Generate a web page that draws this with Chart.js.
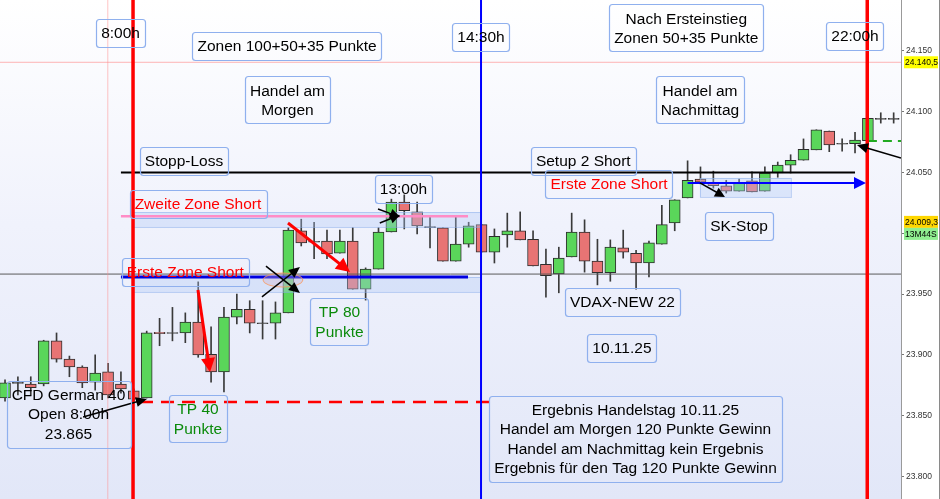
<!DOCTYPE html>
<html>
<head>
<meta charset="utf-8">
<script src="https://cdn.jsdelivr.net/npm/chart.js@4.4.1/dist/chart.umd.min.js"></script>
<style>
  html, body { margin: 0; padding: 0; background: #fff; }
  #wrap { width: 940px; height: 499px; }
</style>
</head>
<body>
<div id="wrap"><canvas id="chartDax" width="940" height="499"></canvas></div>
<script>
// DAX CFD, 15-Minuten-Kerzen vom 10.11.25
const opens  = [23864.5, 23877, 23876, 23876, 23911.5, 23896.5, 23890, 23877.5, 23886, 23876,
                23870.5, 23864.5, 23918.5, 23918, 23918, 23927, 23900.5, 23886, 23931, 23937.5,
                23926, 23926, 23934.5, 24002, 23993, 23993.5, 23983.5, 23993.5, 23954, 23970.5,
                24001, 24025.5, 24017.5, 24005, 24004.5, 23977, 23991, 24007, 23984.5, 23998.5,
                24002, 23995, 23974.5, 23966.5, 23980.5, 24001, 23977, 23967.5, 23988, 23983.5,
                23975.5, 23991, 24008.5, 24029, 24044.5, 24041.5, 24039, 24034.5, 24043, 24034.5,
                24049.5, 24056, 24060, 24068.5, 24084, 24073.5, 24073.5, 24076, 24094, 24094];
const highs  = [23879.5, 23882, 23882, 23912, 23918, 23899, 23891, 23900, 23893, 23886,
                23872, 23919.5, 23930, 23939, 23934.5, 23960, 23923, 23939, 23950, 23944.5,
                23944.5, 23943.5, 24004.5, 24011.5, 24009, 24002.5, 24002.5, 24004.5, 23971.5, 24004.5,
                24028, 24031.5, 24025.5, 24013.5, 24004.5, 24013.5, 24009, 24007, 24003.5, 24016.5,
                24017.5, 24002, 23987, 23988.5, 24016.5, 24011, 23995, 23994.5, 24002.5, 23986,
                23993.5, 24023, 24027.5, 24059.5, 24054.5, 24051, 24043.5, 24044.5, 24050.5, 24054.5,
                24058.5, 24064.5, 24077.5, 24085, 24084, 24077.5, 24083, 24094.5, 24099, 24099];
const lows   = [23862, 23867, 23867, 23874.5, 23894, 23882, 23873, 23871, 23864.5, 23868.5,
                23862, 23864.5, 23907.5, 23911.5, 23910, 23898, 23877.5, 23869.5, 23925.5, 23918,
                23913, 23913, 23934.5, 23989.5, 23979, 23979, 23983.5, 23954, 23945, 23970.5,
                24001, 24003.5, 23999.5, 23988, 23977, 23977, 23988.5, 23984.5, 23975.5, 23988.5,
                23994.5, 23973, 23947.5, 23951, 23980.5, 23968, 23957.5, 23960.5, 23979.5, 23954,
                23964, 23991, 24002, 24029, 24040.5, 24037, 24033, 24034.5, 24034, 24034.5,
                24046, 24049.5, 24060, 24068.5, 24067, 24067.5, 24066, 24076, 24090.5, 24090.5];
const closes = [23877, 23877, 23873, 23911.5, 23896.5, 23890, 23877, 23885, 23867, 23872,
                23863.5, 23918, 23917.5, 23918, 23927, 23900, 23886, 23931, 23937.5, 23926,
                23926, 23934.5, 24002.5, 23992, 23993, 23983, 23993.5, 23954, 23970.5, 24001,
                24025.5, 24018.5, 24006, 24005, 23977, 23991, 24006, 23984.5, 23997.5, 24002,
                23994.5, 23973, 23965, 23979.5, 24001, 23977, 23967.5, 23988.5, 23984.5, 23975.5,
                23992, 24007, 24027.5, 24043.5, 24042, 24039, 24034.5, 24041.5, 24034, 24049.5,
                24056, 24060, 24069, 24085, 24072.5, 24073.5, 24076.5, 24094.5, 24094, 24094];

const priceTicks = [23800, 23850, 23900, 23950, 24000, 24050, 24100, 24150];
const markPrice = 24140.5;
const lastPrice = 24009.3;
const barTimer = '13M44S';

const UP = '#5ad65a', DOWN = '#e87474', FLAT = '#555555';
const FONT = '"Liberation Sans", Arial, sans-serif';

function fmtPrice(v, dec) {
  const parts = v.toFixed(dec).split('.');
  const int = parts[0].replace(/\B(?=(\d{3})+(?!\d))/g, '.');
  return parts[1] ? int + ',' + parts[1] : int;
}

const candleColor = i => closes[i] > opens[i] ? UP : (closes[i] < opens[i] ? DOWN : FLAT);

const wickData = opens.map((o, i) => ({ x: i, y: [lows[i], highs[i]] }));
const bodyData = opens.map((o, i) => {
  const c = closes[i];
  // doji: give the body a hairline so it still shows
  if (o === c) return { x: i, y: [o - 0.4, o + 0.4] };
  return { x: i, y: [Math.min(o, c), Math.max(o, c)] };
});

// text boxes, anchored at candle index / price
const notes = [
  { i: 8.97,  p: 24164.6, lines: ['8:00h'] },
  { i: 21.9,  p: 24153.9, lines: ['Zonen 100+50+35 Punkte'] },
  { i: 21.93, p: 24109.5, lines: ['Handel am', 'Morgen'] },
  { i: 36.96, p: 24161.7, lines: ['14:30h'] },
  { i: 52.9,  p: 24168.7, lines: ['Nach Ersteinstieg', 'Zonen 50+35 Punkte'] },
  { i: 66.0,  p: 24162.1, lines: ['22:00h'] },
  { i: 53.96, p: 24109.5, lines: ['Handel am', 'Nachmittag'] },
  { i: 13.9,  p: 24059.8, lines: ['Stopp-Loss'] },
  { i: 44.9,  p: 24059.4, lines: ['Setup 2 Short'] },
  { i: 14.98, p: 24024.4, lines: ['Zweite Zone Short'], color: '#ff0000' },
  { i: 30.94, p: 24036.3, lines: ['13:00h'] },
  { i: 46.9,  p: 24040.4, lines: ['Erste Zone Short'], color: '#ff0000' },
  { i: 14.0,  p: 23968.5, lines: ['Erste Zone Short'], color: '#ff0000' },
  { i: 57.0,  p: 24005.9, lines: ['SK-Stop'] },
  { i: 25.97, p: 23927.4, lines: ['TP 80', 'Punkte'], color: '#0a8a0a' },
  { i: 47.94, p: 23943.5, lines: ['VDAX-NEW 22'] },
  { i: 47.9,  p: 23906.1, lines: ['10.11.25'] },
  { i: 4.93,  p: 23851.4, lines: ['CFD German 40', 'Open 8:00h', '23.865'] },
  { i: 14.98, p: 23847.3, lines: ['TP 40', 'Punkte'], color: '#0a8a0a' },
  { i: 48.95, p: 23830.9, lines: ['Ergebnis Handelstag 10.11.25', 'Handel am Morgen 120 Punkte Gewinn',
                                  'Handel am Nachmittag kein Ergebnis', 'Ergebnis für den Tag 120 Punkte Gewinn'] }
];

function arrowHead(ctx, x1, y1, x2, y2, len, half, color) {
  const a = Math.atan2(y2 - y1, x2 - x1);
  ctx.fillStyle = color;
  ctx.beginPath();
  ctx.moveTo(x2, y2);
  ctx.lineTo(x2 - len * Math.cos(a) + half * Math.sin(a), y2 - len * Math.sin(a) - half * Math.cos(a));
  ctx.lineTo(x2 - len * Math.cos(a) - half * Math.sin(a), y2 - len * Math.sin(a) + half * Math.cos(a));
  ctx.closePath();
  ctx.fill();
}

const chartNotes = {
  id: 'chartNotes',
  beforeDraw(chart) {
    const { ctx, chartArea: a, width, height } = chart;
    ctx.save();
    ctx.fillStyle = '#ffffff';
    ctx.fillRect(0, 0, width, height);
    const g = ctx.createLinearGradient(0, a.top, 0, a.bottom);
    g.addColorStop(0, '#ffffff');
    g.addColorStop(0.45, '#f0f2fc');
    g.addColorStop(1, '#e2e7f8');
    ctx.fillStyle = g;
    ctx.fillRect(a.left, a.top, a.right - a.left, a.bottom - a.top);
    ctx.strokeStyle = '#8a8a8a';
    ctx.lineWidth = 1;
    ctx.beginPath();
    ctx.moveTo(width - 0.5, 0);
    ctx.lineTo(width - 0.5, height);
    ctx.stroke();
    ctx.restore();
  },
  afterDatasetsDraw(chart) {
    const { ctx, chartArea: a } = chart;
    const X = v => chart.scales.x.getPixelForValue(v);
    const Y = v => chart.scales.y.getPixelForValue(v);
    const hline = (p, i1, i2, color, w, dash) => {
      ctx.strokeStyle = color; ctx.lineWidth = w; ctx.setLineDash(dash || []);
      ctx.beginPath(); ctx.moveTo(i1 == null ? a.left : X(i1), Y(p));
      ctx.lineTo(i2 == null ? a.right : X(i2), Y(p)); ctx.stroke(); ctx.setLineDash([]);
    };
    const vline = (i, color, w) => {
      ctx.strokeStyle = color; ctx.lineWidth = w;
      ctx.beginPath(); ctx.moveTo(X(i), a.top); ctx.lineTo(X(i), a.bottom); ctx.stroke();
    };
    const zone = (i1, i2, p1, p2, fill, edge) => {
      const x = X(i1), y = Y(p1);
      ctx.fillStyle = fill; ctx.strokeStyle = edge; ctx.lineWidth = 1;
      ctx.fillRect(x, y, X(i2) - x, Y(p2) - y);
      ctx.strokeRect(x + 0.5, y + 0.5, X(i2) - x, Y(p2) - y);
    };
    const arrow = (i1, p1, i2, p2, color, w, len, half) => {
      const x1 = X(i1), y1 = Y(p1), x2 = X(i2), y2 = Y(p2);
      const ang = Math.atan2(y2 - y1, x2 - x1);
      ctx.strokeStyle = color; ctx.lineWidth = w;
      ctx.beginPath(); ctx.moveTo(x1, y1);
      ctx.lineTo(x2 - len * 0.7 * Math.cos(ang), y2 - len * 0.7 * Math.sin(ang)); ctx.stroke();
      arrowHead(ctx, x1, y1, x2, y2, len, half, color);
    };

    ctx.save();
    ctx.beginPath();
    ctx.rect(a.left, a.top, a.right - a.left, a.bottom - a.top);
    ctx.clip();

    // zones
    zone(9.94, 36.96, 24017.4, 24005.1, 'rgba(175,200,245,0.35)', 'rgba(140,175,235,0.55)');
    zone(9.94, 36.96, 23964.0, 23951.7, 'rgba(175,200,245,0.35)', 'rgba(140,175,235,0.55)');
    zone(53.96, 61.02, 24045.4, 24029.8, 'rgba(175,200,245,0.35)', 'rgba(140,175,235,0.55)');

    // horizontal levels
    hline(markPrice, null, null, 'rgba(255,120,120,0.55)', 1);
    hline(23966.4, null, null, '#5a5a5a', 1);
    hline(24050, 9.0, 66.0, '#000000', 2);
    hline(24014, 9.0, 35.95, '#ff8cc6', 2.5);
    hline(23964, 9.0, 35.95, '#0000e0', 3);
    hline(23861.2, 10.48, 37.9, '#ff0000', 2.5, [13, 8]);
    hline(24075.8, 67.0, null, '#22aa22', 2, [9, 6]);

    // session lines
    vline(7.98, 'rgba(255,140,140,0.5)', 1);
    vline(9.94, '#ff0000', 3.5);
    vline(36.96, '#0000ff', 2);
    vline(66.95, '#ff0000', 3.5);

    // entry ellipse at the first zone
    ctx.fillStyle = 'rgba(205,175,200,0.35)';
    ctx.strokeStyle = 'rgba(255,150,80,0.75)';
    ctx.lineWidth = 1;
    ctx.beginPath();
    ctx.ellipse(X(21.58), Y(23961.5), X(1.55) - X(0), Y(0) - Y(5.8), 0, 0, Math.PI * 2);
    ctx.fill(); ctx.stroke();

    // arrows
    arrow(69.57, 24061.8, 66.15, 24072.5, '#000000', 1.5, 11, 5);
    arrow(53.0, 24041.3, 66.85, 24041.3, '#0000ff', 2, 12, 6);
    arrow(6.06, 23848.9, 11.02, 23863.7, '#000000', 1.5, 11, 5);
    arrow(19.95, 23947.6, 22.9, 23972.2, '#000000', 1.5, 11, 5);
    arrow(20.26, 23973.0, 22.9, 23950.9, '#000000', 1.5, 11, 5);
    arrow(28.96, 24019.9, 30.67, 24013.3, '#000000', 1.5, 10, 5);
    arrow(29.1, 24008.4, 30.67, 24015.0, '#000000', 1.5, 10, 5);
    arrow(53.96, 24041.3, 55.9, 24029.8, '#000000', 1.5, 10, 5);
    arrow(14.98, 23953.3, 15.92, 23885.9, '#ff0000', 3, 14, 7);
    arrow(21.97, 24008.4, 26.79, 23968.1, '#ff0000', 3, 14, 7);

    // text boxes
    const lh = 19.5;
    ctx.font = '15.5px ' + FONT;
    ctx.textAlign = 'center';
    ctx.textBaseline = 'middle';
    notes.forEach(n => {
      const cx = X(n.i), cy = Y(n.p);
      const w = Math.max(...n.lines.map(t => ctx.measureText(t).width)) + 10;
      const h = n.lines.length * lh + 8;
      ctx.strokeStyle = '#8fb0ee';
      ctx.lineWidth = 1.2;
      ctx.beginPath();
      ctx.roundRect(Math.round(cx - w / 2) + 0.5, Math.round(cy - h / 2) + 0.5, Math.round(w), Math.round(h), 3);
      ctx.stroke();
      ctx.fillStyle = n.color || '#000000';
      n.lines.forEach((t, k) => {
        ctx.fillText(t, cx, cy - (n.lines.length - 1) * lh / 2 + k * lh + 1);
      });
    });
    ctx.restore();
  },
  afterDraw(chart) {
    const { ctx, chartArea: a } = chart;
    const Y = v => chart.scales.y.getPixelForValue(v);
    const tag = (y, text, fill) => {
      ctx.fillStyle = fill;
      ctx.fillRect(a.right + 3, y - 6, 34, 12);
      ctx.fillStyle = '#000000';
      ctx.fillText(text, a.right + 4, y + 0.5);
    };
    ctx.save();
    ctx.font = '8.5px ' + FONT;
    ctx.textAlign = 'left';
    ctx.textBaseline = 'middle';
    tag(Y(markPrice), fmtPrice(markPrice, 1), '#ffff00');
    tag(Y(lastPrice), fmtPrice(lastPrice, 1), '#ffd700');
    tag(Y(lastPrice) + 12, barTimer, '#90ee90');
    ctx.restore();
  }
};

new Chart(document.getElementById('chartDax'), {
  type: 'bar',
  data: {
    datasets: [{
      label: 'Kerzen',
      data: bodyData,
      order: 0,
      grouped: false,
      barThickness: 11,
      borderWidth: 1,
      borderSkipped: false,
      borderColor: '#2e2e2e',
      backgroundColor: ctx => candleColor(ctx.dataIndex)
    }, {
      label: 'Dochte',
      data: wickData,
      order: 1,
      grouped: false,
      barThickness: 1,
      borderWidth: 0,
      backgroundColor: '#3a3a3a'
    }]
  },
  options: {
    responsive: false,
    animation: false,
    layout: { padding: 0 },
    plugins: { legend: { display: false }, tooltip: { enabled: false } },
    scales: {
      x: {
        type: 'linear',
        offset: false,
        bounds: 'data',
        min: -0.39,
        max: 69.57,
        display: false
      },
      y: {
        position: 'right',
        min: 23781.5,
        max: 24191.7,
        afterBuildTicks: axis => { axis.ticks = priceTicks.map(v => ({ value: v })); },
        afterFit: axis => { axis.width = 39; axis.paddingTop = 0; axis.paddingBottom = 0; },
        grid: { drawOnChartArea: false, drawTicks: true, tickLength: 3, color: '#777777' },
        border: { display: true, color: '#9a9a9a' },
        ticks: {
          padding: 2,
          color: '#333333',
          font: { size: 8.5, family: FONT },
          callback: v => fmtPrice(v, 0)
        }
      }
    }
  },
  plugins: [chartNotes]
});
</script>
</body>
</html>
